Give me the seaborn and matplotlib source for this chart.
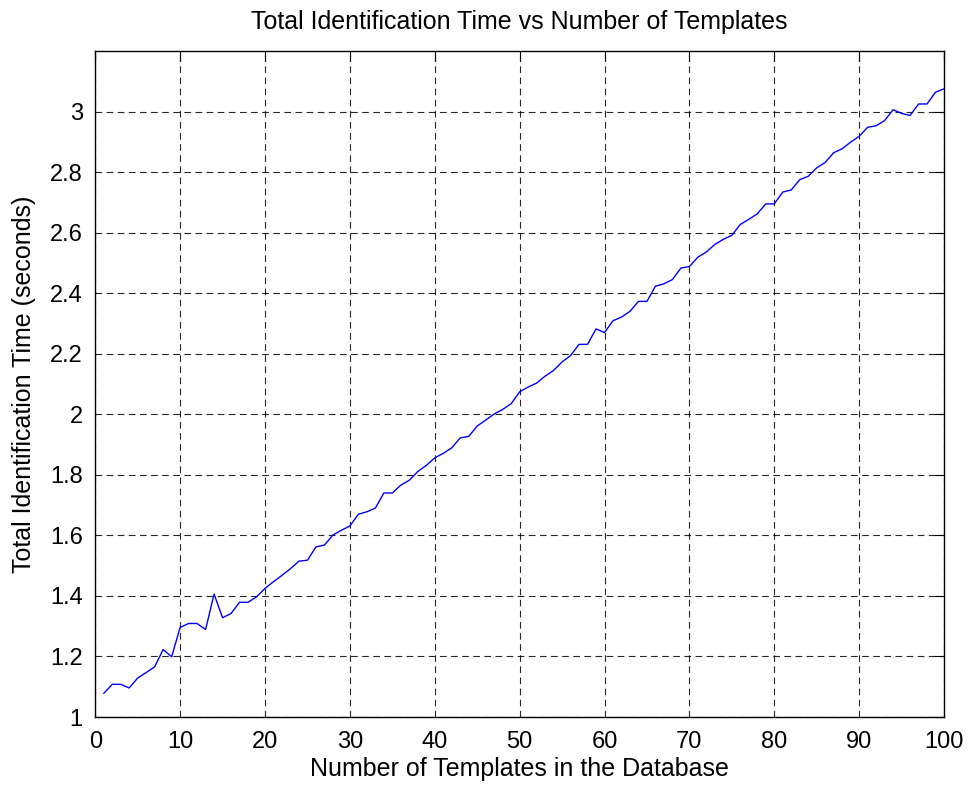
import matplotlib
matplotlib.use("Agg")
import matplotlib.pyplot as plt
import seaborn as sns
import pandas as pd

# Number of templates stored in the database
templates = list(range(1, 101))

# Measured total identification time (seconds) per database size
total_time = [
    1.078, 1.108, 1.108, 1.096, 1.129, 1.147, 1.166, 1.223, 1.199, 1.296,
    1.309, 1.309, 1.289, 1.406, 1.328, 1.342, 1.379, 1.379, 1.397, 1.425,
    1.447, 1.468, 1.490, 1.515, 1.518, 1.562, 1.568, 1.601, 1.617, 1.631,
    1.670, 1.678, 1.690, 1.740, 1.740, 1.766, 1.782, 1.811, 1.831, 1.856,
    1.871, 1.889, 1.922, 1.927, 1.961, 1.981, 2.001, 2.016, 2.035, 2.074,
    2.090, 2.103, 2.126, 2.145, 2.173, 2.194, 2.231, 2.231, 2.282, 2.270,
    2.309, 2.321, 2.340, 2.373, 2.373, 2.423, 2.431, 2.445, 2.483, 2.488,
    2.519, 2.536, 2.561, 2.578, 2.591, 2.627, 2.644, 2.662, 2.695, 2.695,
    2.734, 2.741, 2.775, 2.786, 2.814, 2.832, 2.864, 2.877, 2.899, 2.918,
    2.948, 2.953, 2.970, 3.006, 2.994, 2.987, 3.025, 3.025, 3.064, 3.075,
]

x_ticks = [0, 10, 20, 30, 40, 50, 60, 70, 80, 90, 100]
y_ticks = [1, 1.2, 1.4, 1.6, 1.8, 2, 2.2, 2.4, 2.6, 2.8, 3]
y_tick_labels = ["1", "1.2", "1.4", "1.6", "1.8", "2", "2.2", "2.4", "2.6", "2.8", "3"]

df = pd.DataFrame({"templates": templates, "time": total_time})

sns.set_style("white")
plt.rcParams["font.family"] = ["Liberation Sans", "DejaVu Sans"]
plt.rcParams["text.color"] = "black"
plt.rcParams["axes.labelcolor"] = "black"

fig = plt.figure(figsize=(9.7, 7.87), dpi=100)
ax = fig.add_axes([0.0982, 0.0889, 0.875, 0.8463])

sns.lineplot(data=df, x="templates", y="time", ax=ax, color="#0000ff",
             linewidth=1.0, zorder=3)

ax.set_xlim(0, 100)
ax.set_ylim(1, 3.2)
ax.set_xticks(x_ticks)
ax.set_xticklabels([str(t) for t in x_ticks])
ax.set_yticks(y_ticks)
ax.set_yticklabels(y_tick_labels)

ax.grid(True, color="black", linestyle=(0, (6, 4)), linewidth=0.8, alpha=0.85)
ax.tick_params(direction="in", length=7, width=0.8, top=True, right=True,
               labelsize=17, colors="black")
ax.tick_params(axis="x", pad=10)
ax.tick_params(axis="y", pad=9)
for spine in ax.spines.values():
    spine.set_visible(True)
    spine.set_color("black")
    spine.set_linewidth(1.0)

ax.set_title("Total Identification Time vs Number of Templates", fontsize=18,
             pad=16, color="black")
ax.set_xlabel("Number of Templates in the Database", fontsize=18, labelpad=3,
              color="black")
ax.set_ylabel("Total Identification Time (seconds)", fontsize=18, labelpad=10,
              color="black")

fig.savefig("out.png", dpi=100, facecolor="white")
